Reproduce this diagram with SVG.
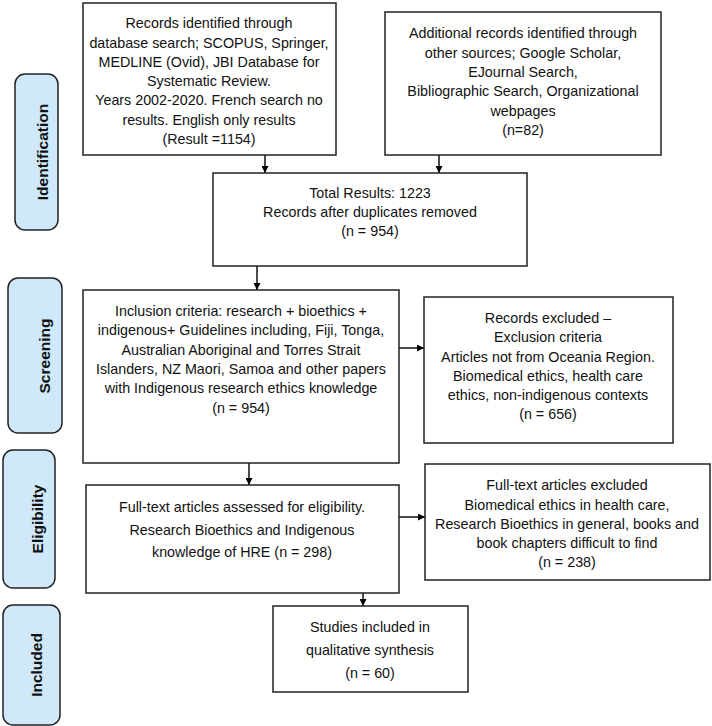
<svg xmlns="http://www.w3.org/2000/svg" width="712" height="726" viewBox="0 0 712 726">
<defs>
<marker id="ah" viewBox="0 0 10 10" refX="10" refY="5" markerWidth="7" markerHeight="7" markerUnits="userSpaceOnUse" orient="auto">
<path d="M0,0 L10,5 L0,10 z" fill="#000"/>
</marker>
<style>
.box{fill:#fff;stroke:#222;stroke-width:1.5}
.stage{fill:#cfe9fa;stroke:#222;stroke-width:1.5}
.t{font-family:"Liberation Sans",Arial,sans-serif;font-size:14.3px;fill:#111;text-anchor:middle}
.s{font-family:"Liberation Sans",Arial,sans-serif;font-size:15.5px;font-weight:bold;fill:#111;text-anchor:middle}
.c{stroke:#111;stroke-width:1.5;fill:none;marker-end:url(#ah)}
</style>
</defs>
<rect width="712" height="726" fill="#fff"/>

<g id="stage-identification">
<rect class="stage" x="15" y="74" width="43" height="156" rx="10"/>
<text class="s" transform="translate(48,152) rotate(-90)">Identification</text>
</g>
<g id="stage-screening">
<rect class="stage" x="8" y="278" width="54" height="155" rx="10"/>
<text class="s" transform="translate(50,356) rotate(-90)">Screening</text>
</g>
<g id="stage-eligibility">
<rect class="stage" x="3" y="450" width="52" height="138" rx="10"/>
<text class="s" transform="translate(43,519) rotate(-90)">Eligibility</text>
</g>
<g id="stage-included">
<rect class="stage" x="3" y="605" width="57" height="120" rx="10"/>
<text class="s" transform="translate(42,665) rotate(-90)">Included</text>
</g>

<g id="connectors">
<line class="c" x1="265" y1="155" x2="265" y2="173"/>
<line class="c" x1="439" y1="155" x2="439" y2="173"/>
<line class="c" x1="257" y1="266" x2="257" y2="290"/>
<line class="c" x1="399" y1="348" x2="424" y2="348"/>
<line class="c" x1="249" y1="463" x2="249" y2="485"/>
<line class="c" x1="399" y1="517" x2="425" y2="517"/>
<line class="c" x1="363" y1="593" x2="363" y2="606"/>
</g>

<g id="db-records">
<rect class="box" x="83" y="3" width="253" height="152"/>
<text class="t" x="209" y="28">Records identified through</text>
<text class="t" x="209" y="47.5">database search; SCOPUS, Springer,</text>
<text class="t" x="209" y="67">MEDLINE (Ovid), JBI Database for</text>
<text class="t" x="209" y="86">Systematic Review.</text>
<text class="t" x="209" y="105">Years 2002-2020. French search no</text>
<text class="t" x="209" y="124.5">results. English only results</text>
<text class="t" x="209" y="143.5">(Result =1154)</text>
</g>

<g id="other-records">
<rect class="box" x="385" y="12" width="276" height="143"/>
<text class="t" x="523" y="38">Additional records identified through</text>
<text class="t" x="523" y="57.5">other sources; Google Scholar,</text>
<text class="t" x="523" y="77">EJournal Search,</text>
<text class="t" x="523" y="96">Bibliographic Search, Organizational</text>
<text class="t" x="523" y="115.5">webpages</text>
<text class="t" x="523" y="135">(n=82)</text>
</g>

<g id="total">
<rect class="box" x="213" y="173" width="314" height="93"/>
<text class="t" x="370" y="198">Total Results: 1223</text>
<text class="t" x="370" y="217">Records after duplicates removed</text>
<text class="t" x="370" y="236">(n = 954)</text>
</g>

<g id="inclusion">
<rect class="box" x="83" y="290" width="316" height="173"/>
<text class="t" x="241" y="316">Inclusion criteria: research + bioethics +</text>
<text class="t" x="241" y="335">indigenous+ Guidelines including, Fiji, Tonga,</text>
<text class="t" x="241" y="354.5">Australian Aboriginal and Torres Strait</text>
<text class="t" x="241" y="374">Islanders, NZ Maori, Samoa and other papers</text>
<text class="t" x="241" y="393">with Indigenous research ethics knowledge</text>
<text class="t" x="241" y="412.5">(n = 954)</text>
</g>

<g id="excluded-records">
<rect class="box" x="424" y="297" width="249" height="146"/>
<text class="t" x="548" y="323">Records excluded –</text>
<text class="t" x="548" y="342">Exclusion criteria</text>
<text class="t" x="548" y="361.5">Articles not from Oceania Region.</text>
<text class="t" x="548" y="380.5">Biomedical ethics, health care</text>
<text class="t" x="548" y="400">ethics, non-indigenous contexts</text>
<text class="t" x="548" y="419">(n = 656)</text>
</g>

<g id="fulltext">
<rect class="box" x="86" y="485" width="313" height="108"/>
<text class="t" x="242" y="512">Full-text articles assessed for eligibility.</text>
<text class="t" x="242" y="534.5">Research Bioethics and Indigenous</text>
<text class="t" x="242" y="557">knowledge of HRE (n = 298)</text>
</g>

<g id="fulltext-excluded">
<rect class="box" x="425" y="464" width="285" height="116"/>
<text class="t" x="567" y="490">Full-text articles excluded</text>
<text class="t" x="567" y="509.5">Biomedical ethics in health care,</text>
<text class="t" x="567" y="528.5">Research Bioethics in general, books and</text>
<text class="t" x="567" y="548">book chapters difficult to find</text>
<text class="t" x="567" y="567">(n = 238)</text>
</g>

<g id="included-studies">
<rect class="box" x="273" y="606" width="195" height="86"/>
<text class="t" x="370" y="632">Studies included in</text>
<text class="t" x="370" y="655">qualitative synthesis</text>
<text class="t" x="370" y="678">(n = 60)</text>
</g>
</svg>
